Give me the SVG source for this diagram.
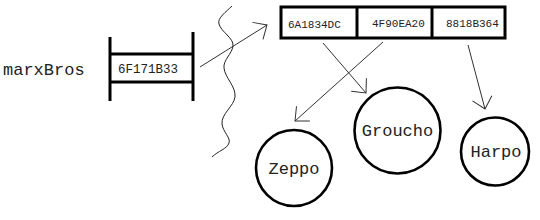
<svg xmlns="http://www.w3.org/2000/svg" width="540" height="220" viewBox="0 0 540 220">
<style>
.t{font-family:"Liberation Mono","Courier New",monospace;fill:#222}
.big{font-size:17px}
.sm{font-size:11px}
.thick{stroke:#000;stroke-width:3;fill:none}
.circ{stroke:#000;stroke-width:2.6;fill:#fff}
.conn{stroke:#333;stroke-width:1;fill:none;marker-end:url(#ah)}
</style>
<defs>
<marker id="ah" markerUnits="userSpaceOnUse" markerWidth="30" markerHeight="30" refX="15" refY="15" orient="auto" viewBox="0 0 30 30">
<path d="M4,5 L15,15 L4,25" fill="none" stroke="#333" stroke-width="1"/>
</marker>
</defs>
<rect width="540" height="220" fill="#fff"/>
<g id="marxBros">
<text class="t big" x="3" y="75">marxBros</text>
<line class="thick" x1="110" y1="37" x2="110" y2="101"/>
<line class="thick" x1="193" y1="32" x2="193" y2="101"/>
<line class="thick" x1="110" y1="54" x2="193" y2="54"/>
<line class="thick" x1="110" y1="82" x2="193" y2="82"/>
<text class="t" x="118" y="73" font-size="12.5">6F171B33</text>
</g>
<g id="wave">
<path d="M232,6 C226,12 217,18 219,24 C221,32 234,38 233,46 C232,54 223,60 224,68 C225,78 236,86 235,97 C234,106 221,114 222,124 C223,132 231,138 229,143 C227,149 218,151 212,157" fill="none" stroke="#222" stroke-width="1"/>
</g>
<g id="array">
<rect class="thick" x="281" y="7" width="224" height="31"/>
<line class="thick" x1="357" y1="7" x2="357" y2="38"/>
<line class="thick" x1="432" y1="7" x2="432" y2="38"/>
<text class="t sm" x="288" y="28">6A1834DC</text>
<text class="t sm" x="372" y="27">4F90EA20</text>
<text class="t sm" x="446" y="27">8818B364</text>
</g>
<g id="zeppo">
<circle class="circ" cx="294" cy="168" r="38"/>
<text class="t big" x="294" y="174" text-anchor="middle">Zeppo</text>
</g>
<g id="groucho">
<circle class="circ" cx="397.5" cy="130.5" r="43"/>
<text class="t big" x="397.5" y="136" text-anchor="middle">Groucho</text>
</g>
<g id="harpo">
<circle class="circ" cx="495" cy="151.5" r="34"/>
<text class="t big" x="496" y="157" text-anchor="middle">Harpo</text>
</g>
<g id="connectors">
<line class="conn" x1="200" y1="67" x2="267" y2="25"/>
<line class="conn" x1="323" y1="43" x2="366" y2="93"/>
<line class="conn" x1="383" y1="42" x2="295" y2="121"/>
<line class="conn" x1="468" y1="45" x2="485" y2="109"/>
</g>
</svg>
